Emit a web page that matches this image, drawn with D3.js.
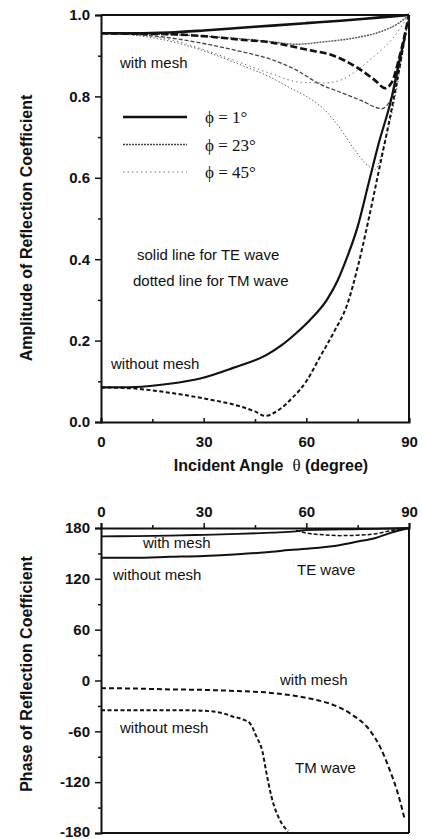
<!DOCTYPE html>
<html>
<head>
<meta charset="utf-8">
<script src="https://d3js.org/d3.v7.min.js"></script>
<title>reflection coefficient</title>
<style>
  body { margin: 0; background: #fff; }
  text { font-family: "Liberation Sans", Arial, sans-serif; fill: #111; }
  .tick text { font-weight: bold; font-size: 15px; }
  .lbl { font-size: 15px; }
  .title { font-weight: bold; font-size: 16px; white-space: pre; }
  .leg { font-family: "Liberation Serif", "Times New Roman", serif; font-size: 17px; }
</style>
</head>
<body>
<svg id="chart"></svg>
<script>
// axis ticks
const thetaTicks = [0, 30, 60, 90];
const thetaMinor = [15, 45, 75];
const ampTicks = [0.0, 0.2, 0.4, 0.6, 0.8, 1.0];
const ampMinor = [0.1, 0.3, 0.5, 0.7, 0.9];
const phaseTicks = [-180, -120, -60, 0, 60, 120, 180];
const phaseMinor = [-150, -90, -30, 30, 90, 150];

// amplitude, with mesh  [theta, |R|]
const ampTE1 = [[0,0.955],[10,0.955],[20,0.957],[30,0.962],[40,0.968],[50,0.974],[60,0.98],[70,0.986],[80,0.993],[90,1.0]];
const ampTM1 = [[0,0.955],[10,0.954],[20,0.953],[30,0.948],[40,0.94],[50,0.932],[60,0.915],[68,0.9],[75,0.87],[80,0.84],[83,0.82],[85,0.835],[87,0.89],[90,1.0]];
const ampTE23 = [[0,0.955],[10,0.954],[20,0.952],[30,0.948],[40,0.942],[50,0.934],[57,0.928],[65,0.934],[75,0.945],[82,0.96],[87,0.98],[90,1.0]];
const ampTM23 = [[0,0.955],[10,0.952],[20,0.944],[30,0.93],[40,0.912],[50,0.89],[57,0.865],[64,0.83],[70,0.81],[76,0.79],[82,0.77],[85,0.8],[87,0.87],[90,1.0]];
const ampTE45 = [[0,0.955],[10,0.952],[20,0.94],[30,0.915],[40,0.885],[50,0.855],[58,0.835],[65,0.833],[70,0.84],[75,0.865],[80,0.9],[85,0.94],[90,1.0]];
const ampTM45 = [[0,0.955],[10,0.95],[20,0.936],[30,0.912],[40,0.88],[50,0.845],[55,0.822],[60,0.8],[65,0.77],[70,0.72],[74,0.67],[78,0.63],[80,0.62],[83,0.69],[86,0.8],[88,0.9],[90,1.0]];
// amplitude, without mesh
const ampTE0 = [[0,0.085],[10,0.086],[20,0.094],[29,0.107],[38.6,0.133],[48.4,0.165],[53,0.19],[57,0.218],[61,0.25],[66,0.3],[69,0.345],[71.7,0.4],[75,0.48],[78,0.58],[81,0.68],[85,0.8],[87,0.88],[89,0.955]];
const ampTM0 = [[0,0.085],[10,0.082],[20,0.072],[30,0.058],[40,0.04],[45,0.026],[48,0.015],[52,0.03],[56,0.06],[60,0.1],[64,0.16],[68,0.22],[72,0.29],[75,0.38],[78,0.49],[81,0.61],[84,0.73],[87,0.86],[89,0.955]];

// phase  [theta, degree]
const phTEmesh = [[0,170],[10,170.5],[20,171],[30,172],[40,173],[50,174.5],[57,176],[60,177.5],[70,178.3],[80,179],[90,180]];
const phTEmesh2 = [[57,177],[60,174],[65,172],[70,171],[75,171.5],[80,173],[85,177],[90,180]];
const phTE0 = [[0,145],[10,145],[20,146],[30,147],[40,149],[50,152],[55,154],[60,155.5],[70,160],[75,164],[80,168],[84.4,174],[90,180]];
const phTMmesh = [[0,-9],[10,-9.5],[20,-10.5],[29,-11],[40,-12.5],[48,-14],[58,-19],[63,-23],[68,-29],[73.6,-41],[78.4,-58],[81.5,-78],[84.4,-106],[86.5,-130],[88.2,-155],[88.8,-165]];
const phTM0 = [[0,-35],[10,-35],[20,-35],[29,-35.6],[35,-38],[38.6,-42.7],[41.5,-46],[43.5,-50.5],[45.4,-66],[47.3,-86],[48.2,-106],[49.8,-137],[52.3,-165],[54.7,-178]];

// legend
const legendLabels = ["\u03d5 = 1\u00b0", "\u03d5 = 23\u00b0", "\u03d5 = 45\u00b0"];

const W = 422, H = 839;
const svg = d3.select("#chart").attr("width", W).attr("height", H);

const x = d3.scaleLinear().domain([0, 90]).range([101, 409]);
const yA = d3.scaleLinear().domain([0, 1]).range([422, 15]);
const yP = d3.scaleLinear().domain([-180, 180]).range([833, 528]);

// ---------- top panel ----------
const topG = svg.append("g");

topG.append("g").attr("transform", "translate(101,0)")
  .call(d3.axisLeft(yA).tickValues(ampTicks).tickFormat(d3.format(".1f")).tickSize(6).tickPadding(5));
topG.append("g").attr("transform", "translate(101,0)")
  .call(d3.axisLeft(yA).tickValues(ampMinor).tickFormat("").tickSize(3))
  .select(".domain").remove();

topG.append("g").attr("transform", "translate(0,422)")
  .call(d3.axisBottom(x).tickValues(thetaTicks).tickSize(-4).tickPadding(14).tickFormat(d => String(d)));
topG.append("g").attr("transform", "translate(0,422)")
  .call(d3.axisBottom(x).tickValues(thetaMinor).tickFormat("").tickSize(-3))
  .select(".domain").remove();

// frame top and right
topG.append("line").attr("class", "frame").attr("x1", x(0)).attr("x2", x(90)).attr("y1", yA(1)).attr("y2", yA(1));
topG.append("line").attr("class", "frame").attr("x1", x(90)).attr("x2", x(90)).attr("y1", yA(1)).attr("y2", yA(0));

svg.append("text").attr("class", "title")
  .attr("transform", "translate(26,228) rotate(-90)")
  .attr("text-anchor", "middle").attr("dominant-baseline", "central")
  .text("Amplitude of Reflection Coefficient");

const xt = svg.append("text").attr("class", "title").attr("x", 271).attr("y", 471).attr("text-anchor", "middle");
xt.append("tspan").text("Incident Angle\u00a0\u00a0");
xt.append("tspan").attr("style", "font-family:'Liberation Serif',serif;font-weight:normal;font-size:17px").text("\u03b8");
xt.append("tspan").text("\u00a0(degree)");

const lineA = d3.line().x(d => x(d[0])).y(d => yA(d[1])).curve(d3.curveMonotoneX);
const lineP = d3.line().x(d => x(d[0])).y(d => yP(d[1])).curve(d3.curveMonotoneX);

const thick = { w: 2.6, dash: null, c: "#111" };
const thickDash = { w: 2.6, dash: "7,3", c: "#111" };
const medSolid = { w: 1.4, dash: "2,1", c: "#555" };
const medDash = { w: 1.3, dash: "4,2", c: "#444" };
const thinDot = { w: 1.0, dash: "1.5,2", c: "#666" };
const thinDot2 = { w: 1.0, dash: "1.5,3", c: "#777" };

const ampSeries = [
  { d: ampTE45, s: thinDot2 },
  { d: ampTM45, s: thinDot },
  { d: ampTE23, s: medSolid },
  { d: ampTM23, s: medDash },
  { d: ampTM1, s: thickDash },
  { d: ampTE1, s: thick },
  { d: ampTE0, s: { w: 2.2, dash: null, c: "#111" } },
  { d: ampTM0, s: { w: 2.0, dash: "4,2.5", c: "#111" } }
];

topG.selectAll("path.curve").data(ampSeries).join("path")
  .attr("class", "curve")
  .attr("d", d => lineA(d.d))
  .attr("fill", "none")
  .attr("stroke", d => d.s.c)
  .attr("stroke-width", d => d.s.w)
  .attr("stroke-dasharray", d => d.s.dash);

// legend
const legStyles = [thick, { w: 1.4, dash: "2,1", c: "#444" }, thinDot2];
const leg = topG.selectAll("g.legrow").data(legendLabels).join("g")
  .attr("class", "legrow")
  .attr("transform", (d, i) => `translate(0,${117 + i * 27.5})`);
leg.append("line").attr("x1", 123).attr("x2", 187).attr("y1", 0).attr("y2", 0)
  .attr("stroke", (d, i) => legStyles[i].c)
  .attr("stroke-width", (d, i) => legStyles[i].w)
  .attr("stroke-dasharray", (d, i) => legStyles[i].dash);
leg.append("text").attr("class", "leg").attr("x", 205).attr("y", 6).text(d => d);

topG.append("text").attr("class", "lbl").attr("x", 120).attr("y", 68).text("with mesh");
topG.append("text").attr("class", "lbl").attr("x", 137).attr("y", 260).text("solid line for TE wave");
topG.append("text").attr("class", "lbl").attr("x", 133).attr("y", 286).text("dotted line for TM wave");
topG.append("text").attr("class", "lbl").attr("x", 111).attr("y", 369).text("without mesh");

// ---------- bottom panel ----------
const botG = svg.append("g");

botG.append("g").attr("class", "phaseAxis").attr("transform", "translate(101,0)")
  .call(d3.axisLeft(yP).tickValues(phaseTicks).tickSize(6).tickPadding(5).tickFormat(d => String(d)));
botG.append("g").attr("transform", "translate(101,0)")
  .call(d3.axisLeft(yP).tickValues(phaseMinor).tickFormat("").tickSize(3))
  .select(".domain").remove();
// keep the lowest label inside the picture
botG.selectAll(".phaseAxis .tick text").filter(d => d === -180).attr("dy", "0.2em");

botG.append("g").attr("transform", "translate(0,528)")
  .call(d3.axisTop(x).tickValues(thetaTicks).tickSize(5).tickPadding(6).tickFormat(d => String(d)));
botG.append("g").attr("transform", "translate(0,528)")
  .call(d3.axisTop(x).tickValues(thetaMinor).tickFormat("").tickSize(3))
  .select(".domain").remove();

botG.append("line").attr("class", "frame").attr("x1", x(90)).attr("x2", x(90)).attr("y1", yP(180)).attr("y2", yP(-180));
botG.append("line").attr("class", "frame").attr("x1", x(0)).attr("x2", x(90)).attr("y1", yP(-180)).attr("y2", yP(-180));

svg.append("text").attr("class", "title")
  .attr("transform", "translate(26,674) rotate(-90)")
  .attr("text-anchor", "middle").attr("dominant-baseline", "central")
  .text("Phase of Reflection Coefficient");

const phSeries = [
  { d: phTEmesh, s: { w: 1.8, dash: null, c: "#111" } },
  { d: phTEmesh2, s: { w: 1.5, dash: "4,2", c: "#111" } },
  { d: phTE0, s: { w: 2.0, dash: null, c: "#111" } },
  { d: phTMmesh, s: { w: 2.0, dash: "5,3", c: "#111" } },
  { d: phTM0, s: { w: 2.0, dash: "4,2.5", c: "#111" } }
];
botG.selectAll("path.curve").data(phSeries).join("path")
  .attr("class", "curve")
  .attr("d", d => lineP(d.d))
  .attr("fill", "none")
  .attr("stroke", d => d.s.c)
  .attr("stroke-width", d => d.s.w)
  .attr("stroke-dasharray", d => d.s.dash);

botG.append("text").attr("class", "lbl").attr("x", 143).attr("y", 548).text("with mesh");
botG.append("text").attr("class", "lbl").attr("x", 113).attr("y", 580).text("without mesh");
botG.append("text").attr("class", "lbl").attr("x", 297).attr("y", 575).text("TE wave");
botG.append("text").attr("class", "lbl").attr("x", 280).attr("y", 685).text("with mesh");
botG.append("text").attr("class", "lbl").attr("x", 120).attr("y", 733).text("without mesh");
botG.append("text").attr("class", "lbl").attr("x", 295).attr("y", 773).text("TM wave");

// axis line styling
svg.selectAll(".domain, .frame").attr("stroke", "#111").attr("stroke-width", 2);
svg.selectAll(".tick line").attr("stroke", "#111").attr("stroke-width", 1.5);
svg.selectAll(".tick text").attr("fill", "#111");
</script>
</body>
</html>
